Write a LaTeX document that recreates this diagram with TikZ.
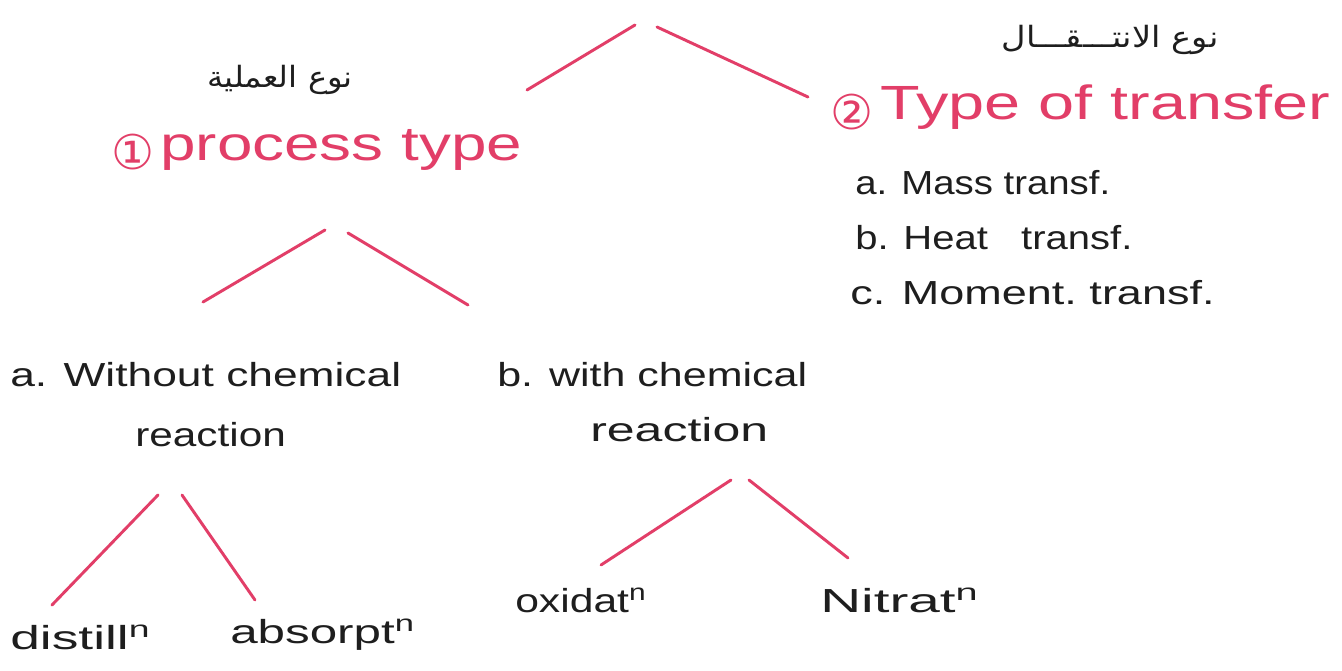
\documentclass[tikz,border=0pt]{standalone}
\usepackage{graphicx}
\usepackage{fontspec}
\setmainfont{Liberation Sans}
\newfontfamily\arabicfont[Script=Arabic]{DejaVu Sans}
\newfontfamily\symfont{DejaVu Sans}
\TeXXeTstate=1
\newcommand{\hs}[2]{\scalebox{#1}[1]{#2}}
\definecolor{pen}{RGB}{226,62,104}
\definecolor{ink}{RGB}{30,30,30}
\tikzset{
  redline/.style={draw=pen, line width=2.2pt, line cap=round},
  head/.style={text=pen, font=\fontsize{36}{38}\selectfont, inner sep=0pt, anchor=west},
  circ/.style={text=pen, font=\symfont\fontsize{36}{38}\selectfont, inner sep=0pt},
  lbl/.style={text=ink, font=\fontsize{25}{27}\selectfont, inner sep=0pt, anchor=west},
  arab/.style={text=ink, font=\arabicfont\fontsize{22}{24}\selectfont, inner sep=0pt},
}
\begin{document}
\begin{tikzpicture}[x=0.75pt,y=-0.75pt]
\useasboundingbox (0,0) rectangle (1342,671);
\fill[white] (0,0) rectangle (1342,671);
% top branch
\coordinate (t1a) at (527,90); \coordinate (t1b) at (635,25);
\coordinate (t2a) at (657,27); \coordinate (t2b) at (808,97);
\draw[redline] (t1a) -- (t1b);
\draw[redline] (t2a) -- (t2b);
% arabic labels
\node[arab] (ar1) at (280,80) {\hs{1.1}{\beginR نوع العملية\endR}};
\node[arab] (ar2) at (1110,40) {\hs{1.15}{\beginR نوع الانتـــقـــال\endR}};
% headings
\node[circ] (c1) at (133,152) {①};
\node[head] (proc) at (160,150) {\hs{1.33}{process type}};
\node[circ] (c2) at (852,112) {②};
\node[head] (trans) at (880,107) {\hs{1.35}{Type of transfer}};
\node[lbl] (ma) at (855,183) {\hs{1.15}{a. Mass transf.}};
\node[lbl] (he) at (855,238) {\hs{1.2}{b. Heat\ \ \ transf.}};
\node[lbl] (mo) at (850,293) {\hs{1.35}{c. Moment.\ transf.}};
% second level
\coordinate (p1a) at (203,302); \coordinate (p1b) at (325,230);
\coordinate (p2a) at (348,233); \coordinate (p2b) at (468,305);
\draw[redline] (p1a) -- (p1b);
\draw[redline] (p2a) -- (p2b);
\node[lbl] (wo) at (10,375) {\hs{1.33}{a. Without chemical}};
\node[lbl] (wor) at (135,435) {\hs{1.27}{reaction}};
\node[lbl] (wi) at (497,375) {\hs{1.29}{b. with chemical}};
\node[lbl] (wir) at (590,430) {\hs{1.5}{reaction}};
% third level
\coordinate (w1a) at (52,605); \coordinate (w1b) at (158,495);
\coordinate (w2a) at (182,495); \coordinate (w2b) at (255,600);
\draw[redline] (w1a) -- (w1b);
\draw[redline] (w2a) -- (w2b);
\coordinate (c1a) at (601,565); \coordinate (c1b) at (731,480);
\coordinate (c2a) at (749,480); \coordinate (c2b) at (848,558);
\draw[redline] (c1a) -- (c1b);
\draw[redline] (c2a) -- (c2b);
\node[lbl] (di) at (10,637) {\hs{1.6}{distill\textsuperscript{n}}};
\node[lbl] (ab) at (230,635) {\hs{1.48}{absorpt\textsuperscript{n}}};
\node[lbl] (ox) at (515,600) {\hs{1.28}{oxidat\textsuperscript{n}}};
\node[lbl] (ni) at (820,600) {\hs{1.7}{Nitrat\textsuperscript{n}}};
\end{tikzpicture}
\end{document}
